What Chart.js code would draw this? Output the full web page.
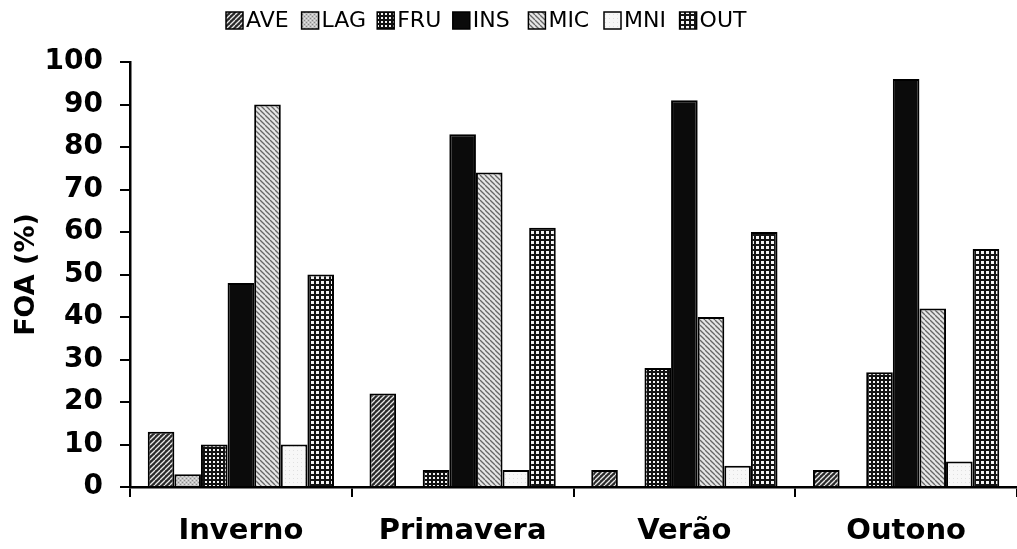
<!DOCTYPE html>
<html>
<head>
<meta charset="utf-8">
<script src="https://cdn.jsdelivr.net/npm/chart.js@4.4.1/dist/chart.umd.min.js"></script>
<style>
html,body{margin:0;padding:0;background:#fff;}
#wrap{width:1017px;height:549px;}
</style>
</head>
<body>
<div id="wrap"><canvas id="c" width="1017" height="549"></canvas></div>
<script>
const categories = ['Inverno', 'Primavera', 'Verão', 'Outono'];
const seriesNames = ['AVE', 'LAG', 'FRU', 'INS', 'MIC', 'MNI', 'OUT'];
const AVE = [13, 22, 4, 4];
const LAG = [3, 0, 0, 0];
const FRU = [10, 4, 28, 27];
const INS = [48, 83, 91, 96];
const MIC = [90, 74, 40, 42];
const MNI = [10, 4, 5, 6];
const OUT = [50, 61, 60, 56];
const yMin = 0, yMax = 100, yStep = 10;
const yTitle = 'FOA (%)';

const canvas = document.getElementById('c');
const ctx = canvas.getContext('2d');

function pat(size, draw) {
  const c = document.createElement('canvas');
  c.width = size; c.height = size;
  const g = c.getContext('2d');
  draw(g, size);
  return ctx.createPattern(c, 'repeat');
}
function diag(g, s, color, lw, dir) {
  g.strokeStyle = color; g.lineWidth = lw;
  for (let k = -1; k <= 1; k++) {
    g.beginPath();
    if (dir > 0) { g.moveTo(k * s, s); g.lineTo(k * s + s, 0); }
    else { g.moveTo(k * s, 0); g.lineTo(k * s + s, s); }
    g.stroke();
  }
}
const fills = {
  AVE: pat(5, (g, s) => { g.fillStyle = '#2a2a2a'; g.fillRect(0, 0, s, s); diag(g, s, '#e8e8e8', 1.3, 1); }),
  LAG: pat(4, (g, s) => { g.fillStyle = '#c4c4c4'; g.fillRect(0, 0, s, s); g.fillStyle = '#8a8a8a'; g.fillRect(0, 0, 1, 1); g.fillRect(2, 2, 1, 1); g.fillStyle = '#e6e6e6'; g.fillRect(2, 0, 1, 1); g.fillRect(0, 2, 1, 1); }),
  FRU: pat(4, (g, s) => { g.fillStyle = '#111'; g.fillRect(0, 0, s, s); g.fillStyle = '#f2f2f2'; g.fillRect(1, 1, 2, 2); }),
  INS: '#0b0b0b',
  MIC: pat(5, (g, s) => { g.fillStyle = '#e6e6e6'; g.fillRect(0, 0, s, s); diag(g, s, '#666', 1.3, -1); }),
  MNI: pat(4, (g, s) => { g.fillStyle = '#f7f7f7'; g.fillRect(0, 0, s, s); g.fillStyle = '#e0e0e0'; g.fillRect(1, 2, 1, 1); }),
  OUT: pat(5, (g, s) => { g.fillStyle = '#151515'; g.fillRect(0, 0, s, s); g.fillStyle = '#f4f4f4'; g.fillRect(1, 1, 3, 3); })
};
const seriesData = { AVE, LAG, FRU, INS, MIC, MNI, OUT };

const datasets = seriesNames.map(n => ({
  label: n,
  data: seriesData[n],
  backgroundColor: fills[n],
  borderColor: '#000',
  borderWidth: 2,
  categoryPercentage: 0.84,
  barPercentage: 1.0
}));

const legendPlugin = {
  id: 'customLegend',
  afterDraw(chart) {
    const c = chart.ctx;
    c.save();
    c.font = '22px "DejaVu Sans"';
    c.textBaseline = 'middle';
    c.textAlign = 'left';
    chart.data.datasets.forEach((ds, i) => {
      const x = 226 + i * 75.6;
      const y = 12;
      c.fillStyle = ds.backgroundColor;
      c.fillRect(x, y, 17, 17);
      c.strokeStyle = '#000';
      c.lineWidth = 1.5;
      c.strokeRect(x, y, 17, 17);
      c.fillStyle = '#000';
      c.fillText(ds.label, x + 20, y + 9.5);
    });
    c.restore();
  }
};

new Chart(ctx, {
  type: 'bar',
  data: { labels: categories, datasets },
  options: {
    responsive: false,
    devicePixelRatio: 1,
    animation: false,
    layout: { padding: { top: 62, right: 0, left: 0, bottom: 0 } },
    plugins: { legend: { display: false }, tooltip: { enabled: false } },
    scales: {
      x: {
        grid: { display: true, drawOnChartArea: false, offset: true, tickLength: 10, color: '#000', lineWidth: 2 },
        border: { display: true, color: '#000', width: 2.5 },
        ticks: { color: '#000', padding: 17, font: { family: 'DejaVu Sans', size: 29, weight: 'bold' } },
        afterFit(scale) { scale.height = 62; }
      },
      y: {
        min: yMin, max: yMax,
        ticks: { stepSize: yStep, color: '#000', padding: 17, font: { family: 'DejaVu Sans', size: 28, weight: 'bold' } },
        grid: { display: true, drawOnChartArea: false, tickLength: 10, color: '#000', lineWidth: 2 },
        border: { display: true, color: '#000', width: 2.5 },
        title: { display: true, text: yTitle, color: '#000', padding: { top: 11, bottom: 0 }, font: { family: 'DejaVu Sans', size: 27, weight: 'bold', lineHeight: 1.2 } },
        afterFit(scale) { scale.width = 130; }
      }
    }
  },
  plugins: [legendPlugin]
});
</script>
</body>
</html>
